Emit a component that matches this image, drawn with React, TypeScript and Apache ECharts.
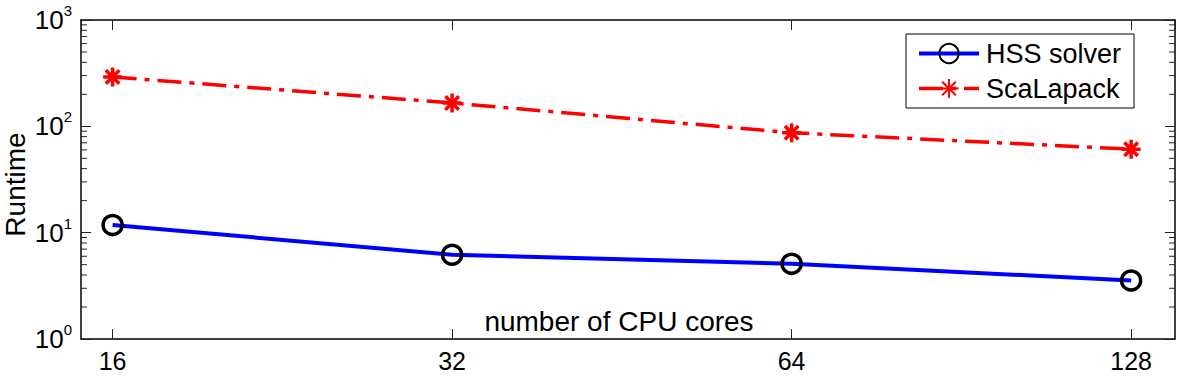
import React, { useEffect, useRef } from "react";
import * as echarts from "echarts";

const cores = [16, 32, 64, 128];
const hssRuntime = [11.8, 6.2, 5.1, 3.55];
const scalapackRuntime = [291, 166, 87, 61];
const yMinorTicks = [2, 3, 4, 5, 6, 7, 8, 9, 20, 30, 40, 50, 60, 70, 80, 90, 200, 300, 400, 500, 600, 700, 800, 900];

const FONT = '"Liberation Sans", Arial, Helvetica, sans-serif';
const STAR = "path://M10,0L10,20M0,10L20,10M2.9,2.9L17.1,17.1M2.9,17.1L17.1,2.9";

export default function App() {
  const ref = useRef<HTMLDivElement>(null);
  useEffect(() => {
    if (!ref.current) return;
    const chart = echarts.init(ref.current, null, { renderer: "svg" });
    const axisLine = { show: true, lineStyle: { color: "#000", width: 1.5 } };
    const xBase = {
      type: "log" as const,
      logBase: 2,
      min: 15,
      max: 140,
      splitNumber: 3,
      splitLine: { show: false },
      axisLine,
      axisTick: { show: true, inside: true, length: 10, lineStyle: { color: "#222", width: 1 } },
    };
    const yBase = {
      type: "log" as const,
      logBase: 10,
      min: 1,
      max: 1000,
      splitLine: { show: false },
      axisLine,
      axisTick: { show: true, inside: true, length: 10, lineStyle: { color: "#222", width: 1 } },
    };
    chart.setOption({
      animation: false,
      backgroundColor: "#fff",
      textStyle: { fontFamily: FONT },
      grid: { left: 81, top: 20, right: 7, bottom: 39, show: false, containLabel: false, outerBoundsMode: "none" },
      legend: {
        data: [
          { name: "HSS solver", lineStyle: { width: 4, color: "#0000ff" } },
          { name: "ScaLapack", lineStyle: { width: 3.5, color: "#ff0000", type: [24, 8, 5, 8] } },
        ],
        orient: "vertical",
        left: 906,
        top: 34,
        padding: [6, 13, 6, 11],
        itemWidth: 60,
        itemHeight: 24,
        itemGap: 8,
        borderColor: "#000",
        borderWidth: 1,
        backgroundColor: "#fff",
        textStyle: { fontSize: 27, color: "#000", fontFamily: FONT, padding: [0, 0, 0, 2] },
      },
      xAxis: [
        {
          ...xBase,
          position: "bottom",
          name: "number of CPU cores",
          nameLocation: "middle",
          nameGap: -32,
          nameMoveOverlap: false,
          nameTextStyle: { fontSize: 28, color: "#000", fontFamily: FONT, padding: [0, 18, 0, 0] },
          axisLabel: {
            show: true,
            fontSize: 25,
            color: "#000",
            margin: 9,
            showMinLabel: false,
            showMaxLabel: false,
            formatter: (v: number) => String(Math.round(v)),
          },
        },
        { ...xBase, position: "top", axisLabel: { show: false } },
      ],
      yAxis: [
        {
          ...yBase,
          position: "left",
          name: "Runtime",
          nameLocation: "middle",
          nameGap: 52,
          nameMoveOverlap: false,
          nameTextStyle: { fontSize: 28, color: "#000", fontFamily: FONT, padding: [0, 10, 0, 0] },
          axisLabel: {
            show: true,
            margin: 9,
            formatter: (v: number) => `{b|10}{s|${Math.round(Math.log10(v))}}`,
            rich: {
              b: { fontSize: 26, lineHeight: 34, color: "#000", fontFamily: FONT },
              s: { fontSize: 15, lineHeight: 15, verticalAlign: "top", color: "#000", fontFamily: FONT },
            },
          },
        },
        { ...yBase, position: "right", axisLabel: { show: false } },
      ],
      series: [
        {
          name: "HSS solver",
          type: "line",
          data: cores.map((c, i) => [c, hssRuntime[i]]),
          symbol: "circle",
          symbolSize: 19,
          lineStyle: { color: "#0000ff", width: 4 },
          itemStyle: { color: "rgba(0,0,0,0)", borderColor: "#000", borderWidth: 3.5 },
          z: 3,
        },
        {
          name: "ScaLapack",
          type: "line",
          data: cores.map((c, i) => [c, scalapackRuntime[i]]),
          symbol: STAR,
          symbolSize: 19,
          lineStyle: { color: "#ff0000", width: 3.5, type: [24, 8, 5, 8] },
          itemStyle: { color: "#ff0000", borderColor: "#ff0000", borderWidth: 3.5 },
          z: 3,
        },
        {
          type: "custom",
          silent: true,
          clip: false,
          data: yMinorTicks.map((v) => [cores[0], v]),
          renderItem: (params: any, api: any) => {
            const cs = params.coordSys;
            const y = api.coord([cores[0], api.value(1)])[1];
            return {
              type: "group",
              children: [
                { type: "line", shape: { x1: cs.x, y1: y, x2: cs.x + 6, y2: y }, style: { stroke: "#222", lineWidth: 1 } },
                { type: "line", shape: { x1: cs.x + cs.width - 6, y1: y, x2: cs.x + cs.width, y2: y }, style: { stroke: "#222", lineWidth: 1 } },
              ],
            };
          },
        },
      ],
    });
    return () => chart.dispose();
  }, []);
  return <div ref={ref} style={{ position: "fixed", left: 0, top: 0, width: 1182, height: 378 }} />;
}
